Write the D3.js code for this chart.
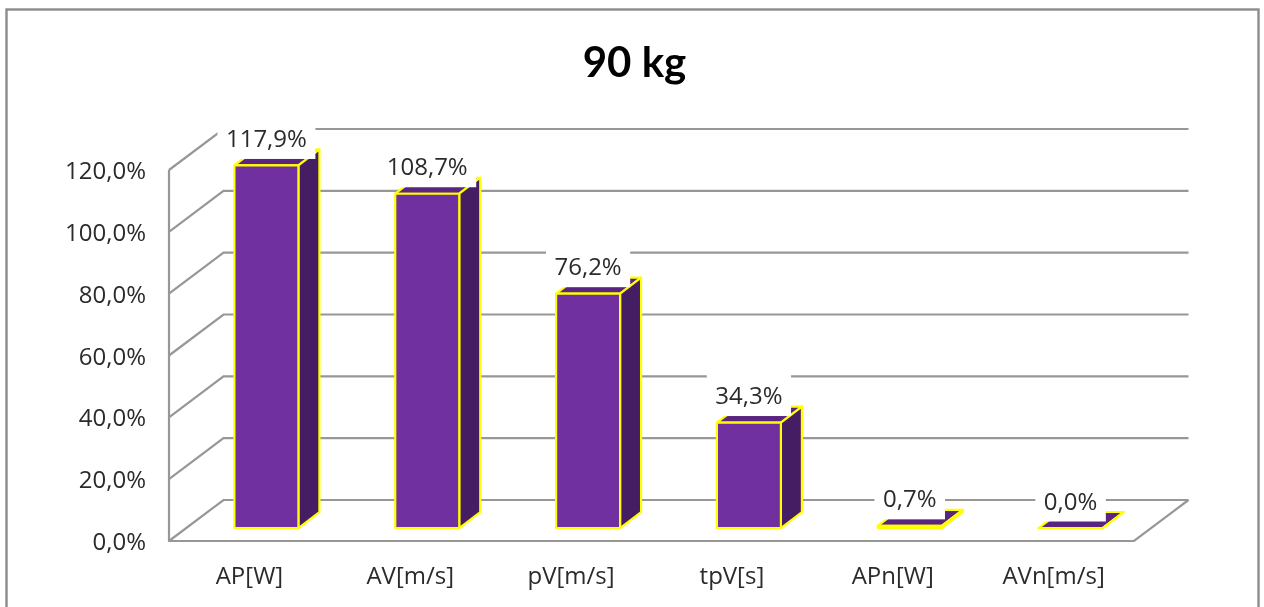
<!DOCTYPE html>
<html><head><meta charset="utf-8">
<script src="https://cdn.jsdelivr.net/npm/d3@7"></script>
<style>
html,body{margin:0;padding:0;background:#fff;overflow:hidden}
svg{display:block;filter:blur(0.5px)}
text{font-family:"Open Sans",sans-serif;fill:#2b2b2b}
</style></head><body>
<svg id="c" width="1264" height="607"></svg>
<script>
const categories = ["AP[W]","AV[m/s]","pV[m/s]","tpV[s]","APn[W]","AVn[m/s]"];
const values = [117.9,108.7,76.2,34.3,0.7,0.0];
const valueLabels = ["117,9%","108,7%","76,2%","34,3%","0,7%","0,0%"];
const yTicks = [0,20,40,60,80,100,120];
const title = "90 kg";

const svg = d3.select("#c");
// frame
svg.append("rect").attr("x",6.5).attr("y",9.5).attr("width",1252).attr("height",620)
  .attr("fill","#fff").attr("stroke","#8c8c8c").attr("stroke-width",2.4);
svg.append("text").attr("x",634.5).attr("y",77).attr("text-anchor","middle")
  .attr("font-size",42).attr("font-weight",700).style("font-family","Lato,sans-serif").style("fill","#000").text(title);

const x = d3.scaleBand().domain(categories).range([169,1134]);
const y = d3.scaleLinear().domain([0,120]).range([541,170]);
const barY = d3.scaleLinear().domain([0,120]).range([528,159]);
const wallDx = 54.5, wallDy = 41;          // depth of the chart box
const barOffX = 17;                        // bar front relative to box front
const barW = 64, barDx = 21, barDy = 16;   // bar size

const g = svg.append("g").attr("fill","none").attr("stroke","#979797").attr("stroke-width",2.2);
yTicks.forEach(t=>{
  const yy = y(t);
  g.append("path").attr("d",d3.line()([[169,yy],[169+wallDx,yy-wallDy],[1134+wallDx,yy-wallDy]]));
});
g.append("path").attr("d",d3.line()([[169,y(120)],[169,y(0)],[1134,y(0)],[1134+wallDx,y(0)-wallDy]]));

// axes
const ya = d3.axisLeft(y).tickValues(yTicks).tickSize(0).tickPadding(0)
  .tickFormat(d=>d.toFixed(1).replace(".",",")+"%");
const yg = svg.append("g").attr("transform","translate(146,0)").call(ya);
yg.select(".domain").remove();
yg.selectAll("text").attr("font-size",24).attr("dy","0.36em");
const xa = d3.axisBottom(x).tickSize(0).tickPadding(0);
const xg = svg.append("g").attr("transform","translate(0,575)").call(xa);
xg.select(".domain").remove();
xg.selectAll("text").attr("font-size",24).attr("dy","0.36em").attr("y",0);

// bars
const line = d3.line();
const bars = svg.append("g").attr("stroke","#ffff00").attr("stroke-width",2.2).attr("stroke-linejoin","round");
const data = categories.map((c,i)=>({c,v:values[i],label:valueLabels[i]}));
const geom = d => {
  const l = x(d.c)+x.bandwidth()/2+barOffX-barW/2, r = l+barW;
  return {l,r,b:barY(0),t:barY(d.v)};
};
data.forEach(d=>{
  const {l,r,b,t} = geom(d);
  bars.append("path").attr("fill","#5a2580").attr("d",line([[l,t],[r,t],[r+barDx,t-barDy],[l+barDx,t-barDy]])+"Z");
  bars.append("path").attr("fill","#451d63").attr("d",line([[r,t],[r+barDx,t-barDy],[r+barDx,b-barDy],[r,b]])+"Z");
  bars.append("path").attr("fill","#7030a0").attr("d",line([[l,t],[r,t],[r,b],[l,b]])+"Z");
});
// value labels with white boxes
const labs = svg.append("g");
data.forEach(d=>{
  const {l,r,t} = geom(d);
  const cx = (l+r)/2, cy = t-27;
  const txt = labs.append("text").attr("x",cx).attr("y",cy).attr("dy","0.36em")
    .attr("text-anchor","middle").attr("font-size",24).text(d.label);
  const w = txt.node().getComputedTextLength();
  labs.insert("rect","text").attr("x",cx-w/2-8.5).attr("y",cy-25).attr("width",w+17).attr("height",45.5).attr("fill","#fff");
});
labs.selectAll("text").raise();
</script>
</body></html>
